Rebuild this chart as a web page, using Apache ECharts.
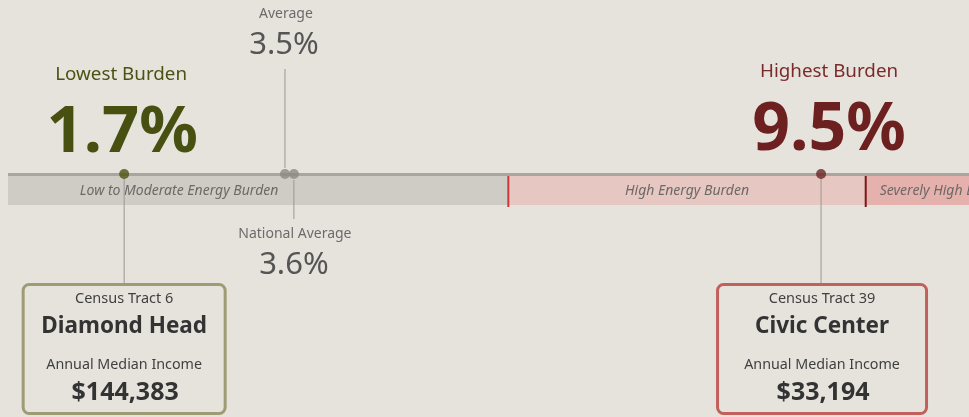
<!DOCTYPE html>
<html>
<head>
<meta charset="utf-8">
<script src="https://cdn.jsdelivr.net/npm/echarts@6/dist/echarts.min.js"></script>
<style>
  html, body { margin: 0; padding: 0; background: #e6e3dd; }
  #chart { width: 969px; height: 417px; }
</style>
</head>
<body>
<div id="chart"></div>
<script>
// bands of energy burden (%)
const bandNames = ['Low to Moderate Energy Burden', 'High Energy Burden', 'Severely High Energy Burden']
const bandStart = [-1.37, 6, 10]
const bandEnd = [6, 10, 12.3]
const bandFill = ['#cfccc6', '#e6c7c2', '#e5b1ac']
const bandEdge = [null, '#c8383a', '#7a1616']

// markers on the line (%)
const markerNames = ['Lowest Burden', 'Average', 'National Average', 'Highest Burden']
const markerValues = [1.7, 3.5, 3.6, 9.5]
const markerColors = ['#4b5214', '#8b8985', '#8b8985', '#6b2626']

// tracts at the extremes
const tractIds = ['Census Tract 6', 'Census Tract 39']
const tractNames = ['Diamond Head', 'Civic Center']
const tractIncome = [144383, 33194]
const tractBorder = ['#9d9c74', '#c2615c']

const FONT = '"Noto Sans", "Open Sans", sans-serif'
const AXIS_Y = 174
const BAND_TOP = 176
const BAND_BOTTOM = 205

const chart = echarts.init(document.getElementById('chart'))

chart.setOption({
  backgroundColor: '#e6e3dd',
  animation: false,
  grid: { left: 8, right: 0, top: 0, bottom: 0 },
  xAxis: { type: 'value', min: 0.4, max: 11.156, show: false },
  yAxis: { type: 'value', min: 0, max: 417, inverse: true, show: false },
  series: [
    {
      type: 'custom',
      z: 1,
      data: bandNames.map((n, i) => [bandStart[i], bandEnd[i], i]),
      renderItem(params, api) {
        const i = api.value(2)
        const s = api.coord([api.value(0), BAND_TOP])
        const e = api.coord([api.value(1), BAND_BOTTOM])
        const rect = echarts.graphic.clipRectByRect(
          { x: s[0], y: s[1], width: e[0] - s[0], height: e[1] - s[1] },
          params.coordSys
        )
        const children = []
        if (rect) {
          children.push({ type: 'rect', shape: rect, style: { fill: bandFill[i] } })
        }
        if (bandEdge[i]) {
          children.push({
            type: 'line',
            shape: { x1: s[0], y1: BAND_TOP - 1, x2: s[0], y2: BAND_BOTTOM + 2 },
            style: { stroke: bandEdge[i], lineWidth: 2 }
          })
        }
        children.push({
          type: 'text',
          style: {
            text: bandNames[i],
            x: (s[0] + e[0]) / 2,
            y: (BAND_TOP + BAND_BOTTOM) / 2 + 0.5,
            align: 'center',
            verticalAlign: 'middle',
            font: 'italic 14px ' + FONT,
            fill: '#6c6966'
          }
        })
        return { type: 'group', children }
      }
    },
    {
      type: 'scatter',
      z: 5,
      symbolSize: 10,
      data: markerValues.map((v, i) => ({
        value: [v, AXIS_Y],
        itemStyle: { color: markerColors[i] }
      })),
      markLine: {
        silent: true,
        symbol: 'none',
        label: { show: false },
        lineStyle: { color: '#a9a6a1', width: 3, type: 'solid' },
        data: [{ yAxis: AXIS_Y }]
      }
    }
  ]
})

// positions of annotations follow the x scale
const px = v => chart.convertToPixel({ xAxisIndex: 0, yAxisIndex: 0 }, [v, 0])[0]

function txt(text, x, y, font, fill) {
  return {
    type: 'text', z: 10,
    style: { text, x, y, align: 'center', verticalAlign: 'middle', font, fill }
  }
}
function vline(x, y1, y2) {
  return {
    type: 'line', z: 3,
    shape: { x1: x, y1, x2: x, y2 },
    style: { stroke: '#9b9893', lineWidth: 1 }
  }
}

const xLow = px(markerValues[0])
const xAvg = px(markerValues[1])
const xNat = px(markerValues[2])
const xHigh = px(markerValues[3])

const graphic = [
  txt(markerNames[1], xAvg + 1, 14, '14px ' + FONT, '#6b6b6b'),
  txt(markerValues[1].toFixed(1) + '%', xAvg - 1, 45, '31px ' + FONT, '#555555'),
  vline(xAvg, 69, 168),
  txt(markerNames[2], xNat + 1, 234, '14px ' + FONT, '#6b6b6b'),
  txt(markerValues[2].toFixed(1) + '%', xNat, 265, '31px ' + FONT, '#555555'),
  vline(xNat, 180, 219),
  txt(markerNames[0], xLow - 3, 75, '18.8px ' + FONT, '#4b5214'),
  txt(markerValues[0].toFixed(1) + '%', xLow - 2, 133, 'bold 65px ' + FONT, '#475010'),
  txt(markerNames[3], xHigh + 8, 72, '18.8px ' + FONT, '#7a2a2a'),
  txt(markerValues[3].toFixed(1) + '%', xHigh + 8, 131, 'bold 66px ' + FONT, '#6c2020'),
  vline(xLow, 178, 284),
  vline(xHigh, 178, 284)
]

const boxX = [xLow, xHigh + 1]
const boxW = [202, 209]
boxX.forEach((cx, i) => {
  graphic.push({
    type: 'rect', z: 4,
    shape: { x: cx - boxW[i] / 2, y: 284.5, width: boxW[i], height: 129, r: 6 },
    style: { fill: '#e6e3dd', stroke: tractBorder[i], lineWidth: 3 }
  })
  graphic.push(txt(tractIds[i], cx, 299, '14.5px ' + FONT, '#3f3f3f'))
  graphic.push(txt(tractNames[i], cx, 327, 'bold 22.5px ' + FONT, '#333333'))
  graphic.push(txt('Annual Median Income', cx, 365, '14.3px ' + FONT, '#3f3f3f'))
  graphic.push(txt('$' + tractIncome[i].toLocaleString('en-US'), cx + 1, 393, 'bold 25px ' + FONT, '#333333'))
})

chart.setOption({ graphic })
</script>
</body>
</html>
